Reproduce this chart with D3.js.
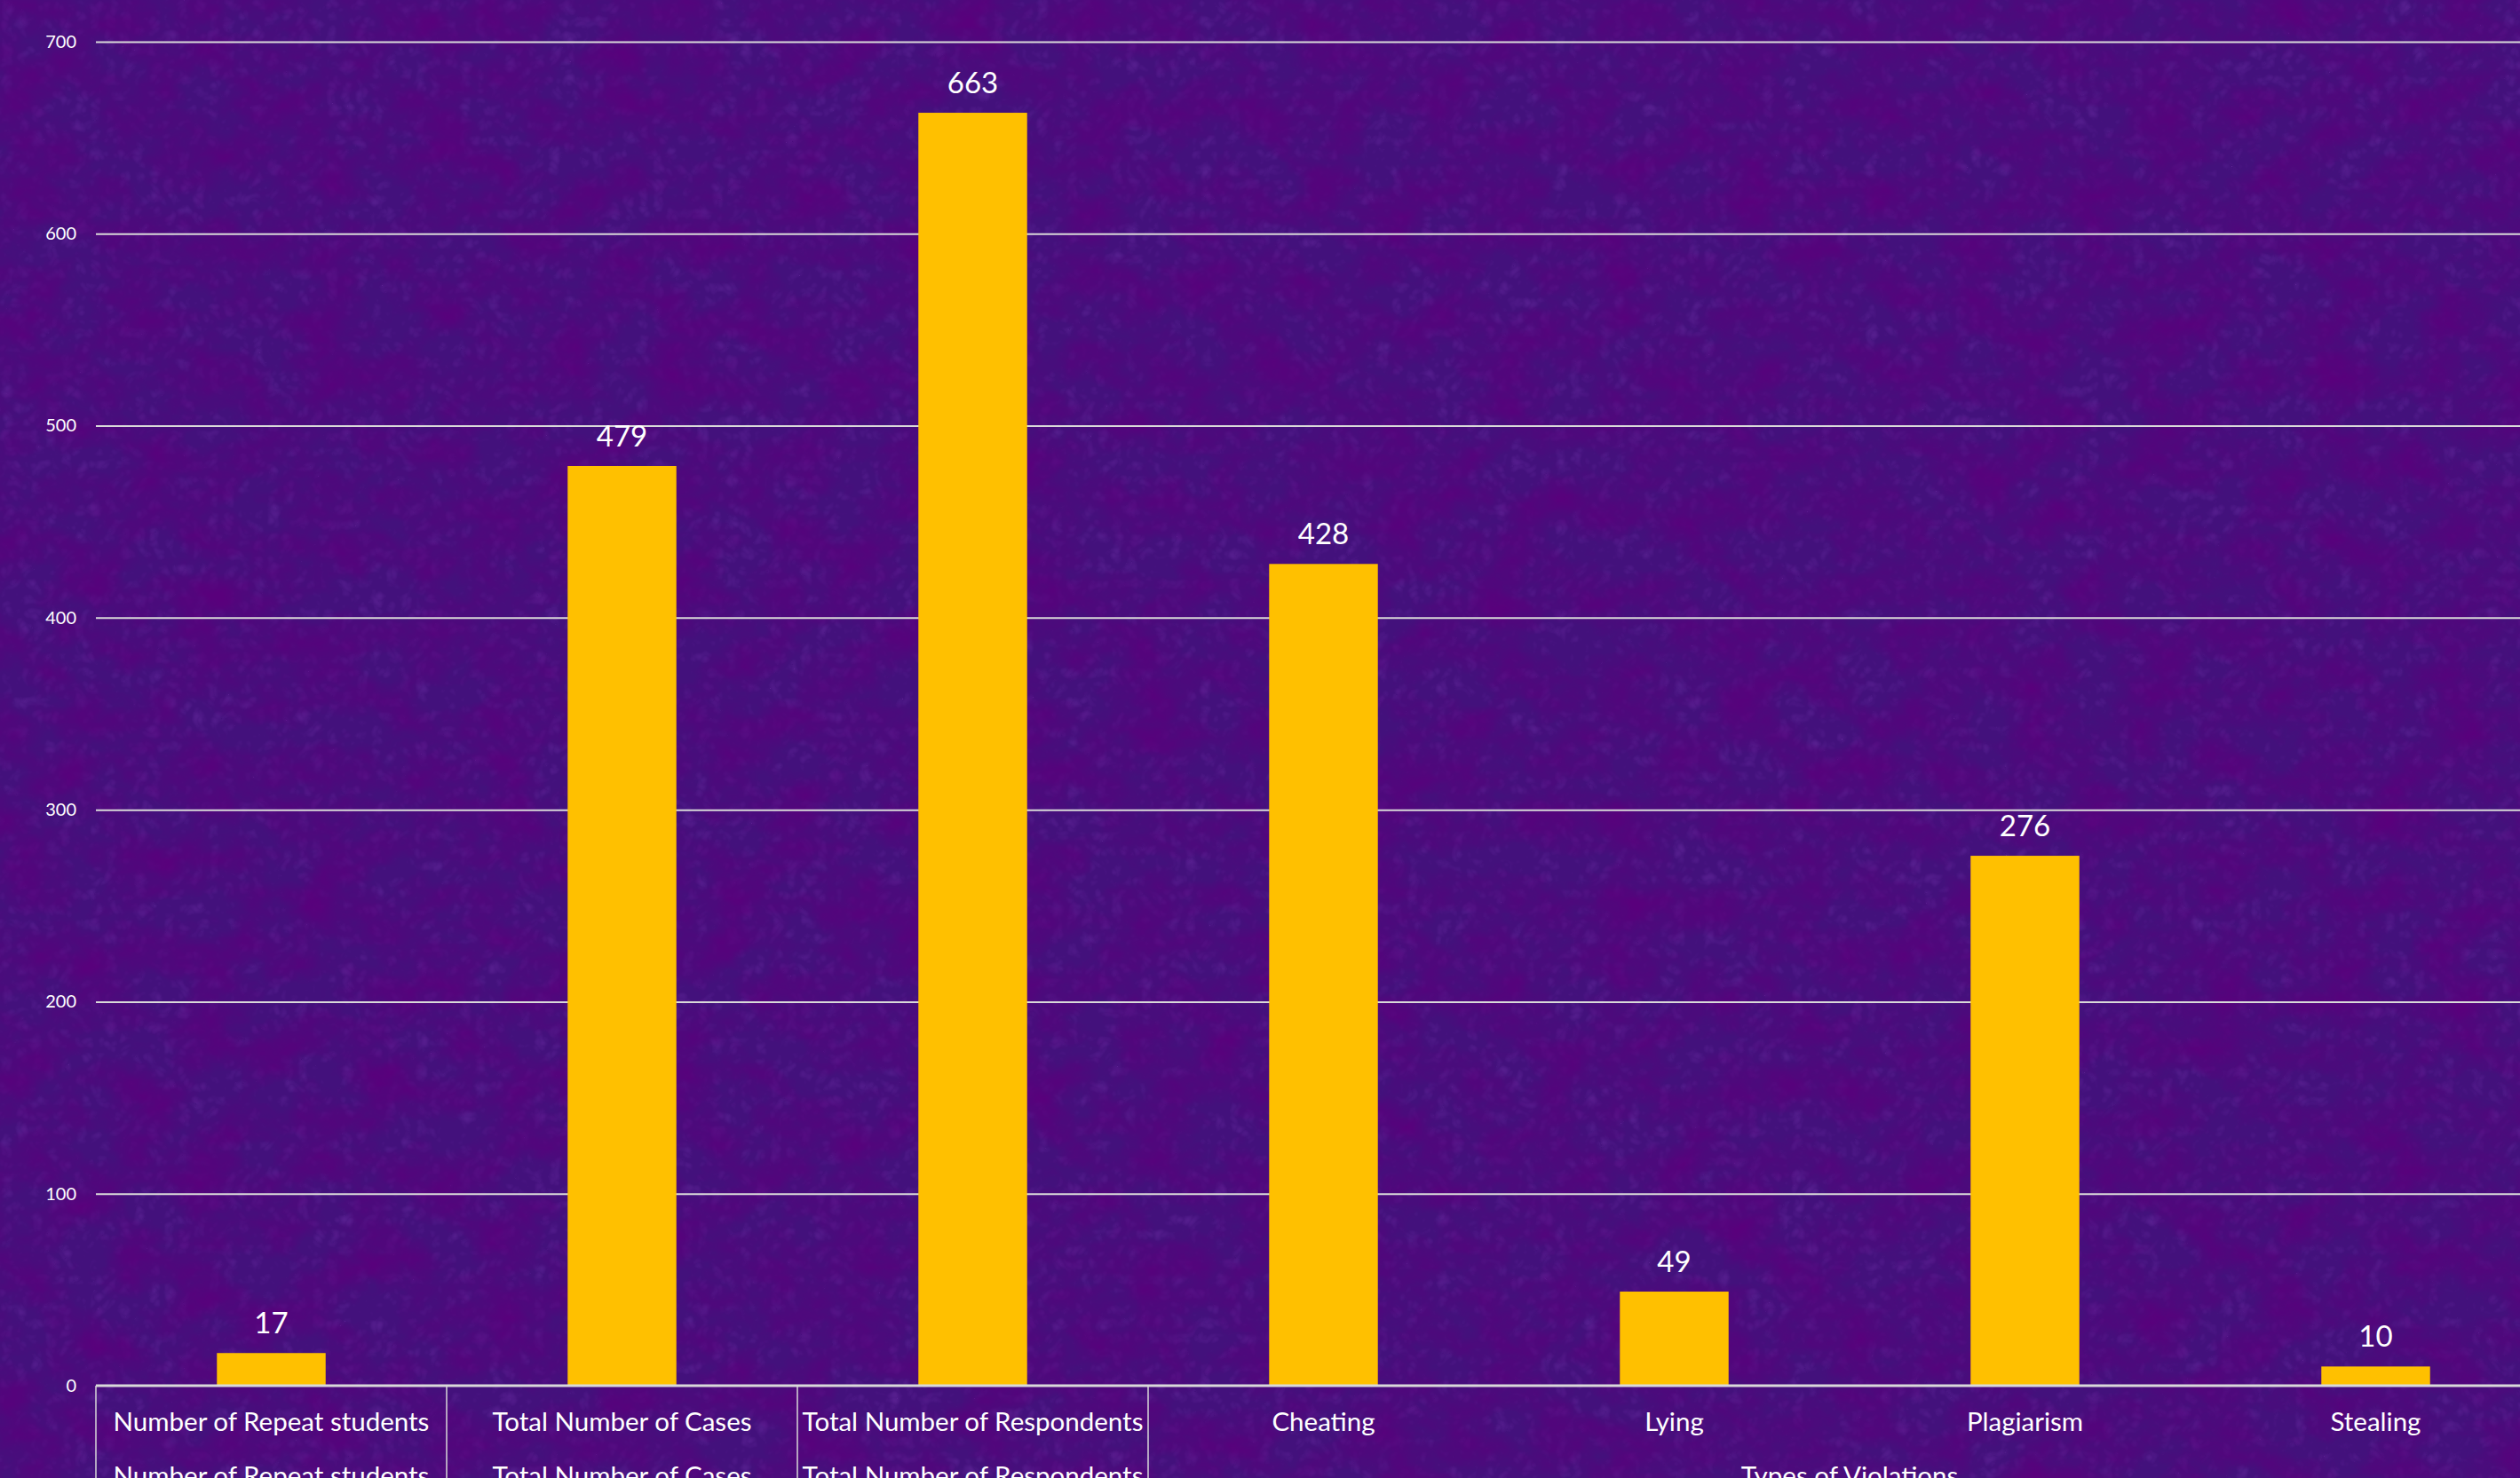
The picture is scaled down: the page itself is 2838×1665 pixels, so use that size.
<!DOCTYPE html>
<html>
<head>
<meta charset="utf-8">
<script src="https://cdn.jsdelivr.net/npm/d3@7"></script>
<style>
  html, body { margin: 0; padding: 0; background: #45137f; overflow: hidden; }
  text { font-family: Lato, "Open Sans", sans-serif; fill: #ffffff; }
</style>
</head>
<body>
<div id="chart"></div>
<script>
// chart data
const categories = ["Number of Repeat students", "Total Number of Cases", "Total Number of Respondents",
                    "Cheating", "Lying", "Plagiarism", "Stealing"]
const groups = ["Number of Repeat students", "Total Number of Cases", "Total Number of Respondents",
                "Types of Violations", "Types of Violations", "Types of Violations", "Types of Violations"]
const values = [17, 479, 663, 428, 49, 276, 10]
const yTicks = [0, 100, 200, 300, 400, 500, 600, 700]

const width = 2838
const height = 1665
const marginLeft = 108
const plotTop = 47
const baseY = 1561
const step = 395

const svg = d3.select("#chart")
    .append("svg")
    .attr("width", width)
    .attr("height", height)

// textured purple background
const defs = svg.append("defs")
const f = defs.append("filter").attr("id", "tex").attr("x", 0).attr("y", 0).attr("width", 1).attr("height", 1)
f.append("feTurbulence").attr("type", "fractalNoise").attr("baseFrequency", "0.015 0.02")
    .attr("numOctaves", 4).attr("seed", 7).attr("result", "n")
f.append("feColorMatrix").attr("in", "n").attr("type", "matrix")
    .attr("values", "0 0 0 0 0.1  0 0 0 0 0.0  0 0 0 0 0.2  1.8 0 0 0 -0.6")
const f2 = defs.append("filter").attr("id", "tex2").attr("x", 0).attr("y", 0).attr("width", 1).attr("height", 1)
f2.append("feTurbulence").attr("type", "turbulence").attr("baseFrequency", "0.06")
    .attr("numOctaves", 2).attr("seed", 3).attr("result", "n")
f2.append("feColorMatrix").attr("in", "n").attr("type", "matrix")
    .attr("values", "0 0 0 0 0.45  0 0 0 0 0.12  0 0 0 0 0.8  0 0 1.2 0 -0.3")

svg.append("rect").attr("width", width).attr("height", height).attr("fill", "#43117c")
svg.append("rect").attr("width", width).attr("height", height).attr("filter", "url(#tex2)").attr("opacity", 0.25)
svg.append("rect").attr("width", width).attr("height", height).attr("filter", "url(#tex)")

const x = d3.scaleBand()
    .domain(categories)
    .range([marginLeft, marginLeft + step * categories.length])
    .paddingInner(0.69)
    .paddingOuter(0.345)

const y = d3.scaleLinear()
    .domain([0, 700])
    .range([baseY, plotTop])

// gridlines + tick labels
const yAxis = svg.append("g")
    .attr("transform", `translate(${marginLeft},0)`)
    .call(d3.axisLeft(y).tickValues(yTicks).tickSize(-(width - marginLeft)).tickPadding(22))
yAxis.select(".domain").remove()
yAxis.selectAll(".tick line").attr("stroke", "#d9d9d9").attr("stroke-width", 2)
yAxis.selectAll(".tick text").attr("font-size", 20).attr("fill", "#ffffff")
    .style("font-family", "Lato, sans-serif")
yAxis.selectAll(".tick").filter(d => d === 0).select("line").remove()

// bars
svg.selectAll("rect.bar")
    .data(values)
    .enter()
    .append("rect")
    .attr("class", "bar")
    .attr("x", (d, i) => x(categories[i]))
    .attr("width", x.bandwidth())
    .attr("y", d => y(d))
    .attr("height", d => y(0) - y(d))
    .attr("fill", "#ffc000")

// value labels
svg.selectAll("text.val")
    .data(values)
    .enter()
    .append("text")
    .attr("class", "val")
    .attr("x", (d, i) => x(categories[i]) + x.bandwidth() / 2)
    .attr("y", d => y(d) - 22)
    .attr("text-anchor", "middle")
    .attr("font-size", 33)
    .text(d => d)

// category axis line
svg.append("line")
    .attr("x1", marginLeft).attr("x2", width)
    .attr("y1", y(0)).attr("y2", y(0))
    .attr("stroke", "#d9d9d9").attr("stroke-width", 3)

// first level labels
svg.selectAll("text.cat")
    .data(categories)
    .enter()
    .append("text")
    .attr("class", "cat")
    .attr("x", d => x(d) + x.bandwidth() / 2)
    .attr("y", 1612)
    .attr("text-anchor", "middle")
    .attr("font-size", 29.5)
    .text(d => d)

// second level (group) labels and dividers
const spans = []
groups.forEach((g, i) => {
    const last = spans[spans.length - 1]
    if (last && last.name === g) last.end = i
    else spans.push({ name: g, start: i, end: i })
})
const bandStart = i => x(categories[i]) - x.step() * x.paddingInner() / 2
const bandEnd = i => bandStart(i) + x.step()

svg.selectAll("text.grp")
    .data(spans)
    .enter()
    .append("text")
    .attr("class", "grp")
    .attr("x", d => (bandStart(d.start) + bandEnd(d.end)) / 2)
    .attr("y", 1673)
    .attr("text-anchor", "middle")
    .attr("font-size", 29.5)
    .text(d => d.name)

const dividers = spans.map(d => bandStart(d.start)).concat([bandEnd(spans[spans.length - 1].end)])
svg.selectAll("line.div")
    .data(dividers)
    .enter()
    .append("line")
    .attr("class", "div")
    .attr("x1", d => d).attr("x2", d => d)
    .attr("y1", y(0)).attr("y2", height)
    .attr("stroke", "#d9d9d9").attr("stroke-width", 1.5)
</script>
</body>
</html>
